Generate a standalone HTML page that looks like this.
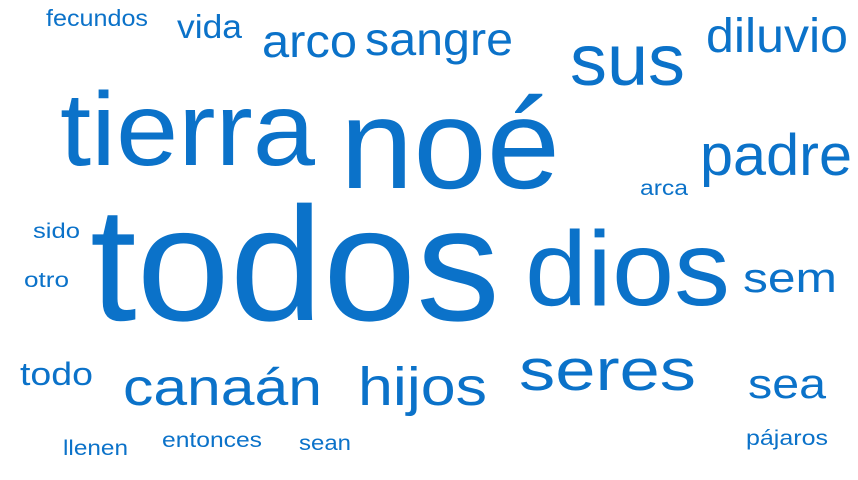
<!DOCTYPE html>
<html>
<head>
<meta charset="utf-8">
<style>
  html,body{margin:0;padding:0;background:#fff;}
  svg{display:block;}
  text{font-family:"Liberation Sans",Arial,sans-serif;fill:#0b72c9;}
</style>
</head>
<body>
<svg id="cloud" width="858" height="480" viewBox="0 0 858 480"></svg>
<script>
const words = ["todos","noé","tierra","dios","sus","padre","seres","hijos","canaán","diluvio","sangre","arco","sem","sea","vida","todo","fecundos","arca","sido","otro","llenen","entonces","sean","pájaros"];
const weights = [162,128,104,106,72,58,58,54,52,48,46,46,42,42,33,32,23,21,21,21,21,21,21,21];
const layoutX = [90,340,60,525,570,700,519,358,123,706,365,262,743,748,177,20,46,640,33,24,63,162,299,746];
const layoutY = [320,188,165,305,85,175,390,405,405,52,55,57,292,398,38,385,26,195,238,287,455,447,450,445];
const layoutW = [410,220,255,205,115,152,177,129,199,142,148,95,94,78,65,73,102,48,47,45,65,100,52,82];

const svg = document.getElementById('cloud');
const NS = 'http://www.w3.org/2000/svg';
function sizeScale(w){ return w; }
words.forEach((w,i)=>{
  const t = document.createElementNS(NS,'text');
  t.setAttribute('x', layoutX[i]);
  t.setAttribute('y', layoutY[i]);
  t.setAttribute('font-size', sizeScale(weights[i]));
  t.setAttribute('textLength', layoutW[i]);
  t.setAttribute('lengthAdjust', 'spacingAndGlyphs');
  t.textContent = w;
  
  
  svg.appendChild(t);
});
</script>
</body>
</html>
